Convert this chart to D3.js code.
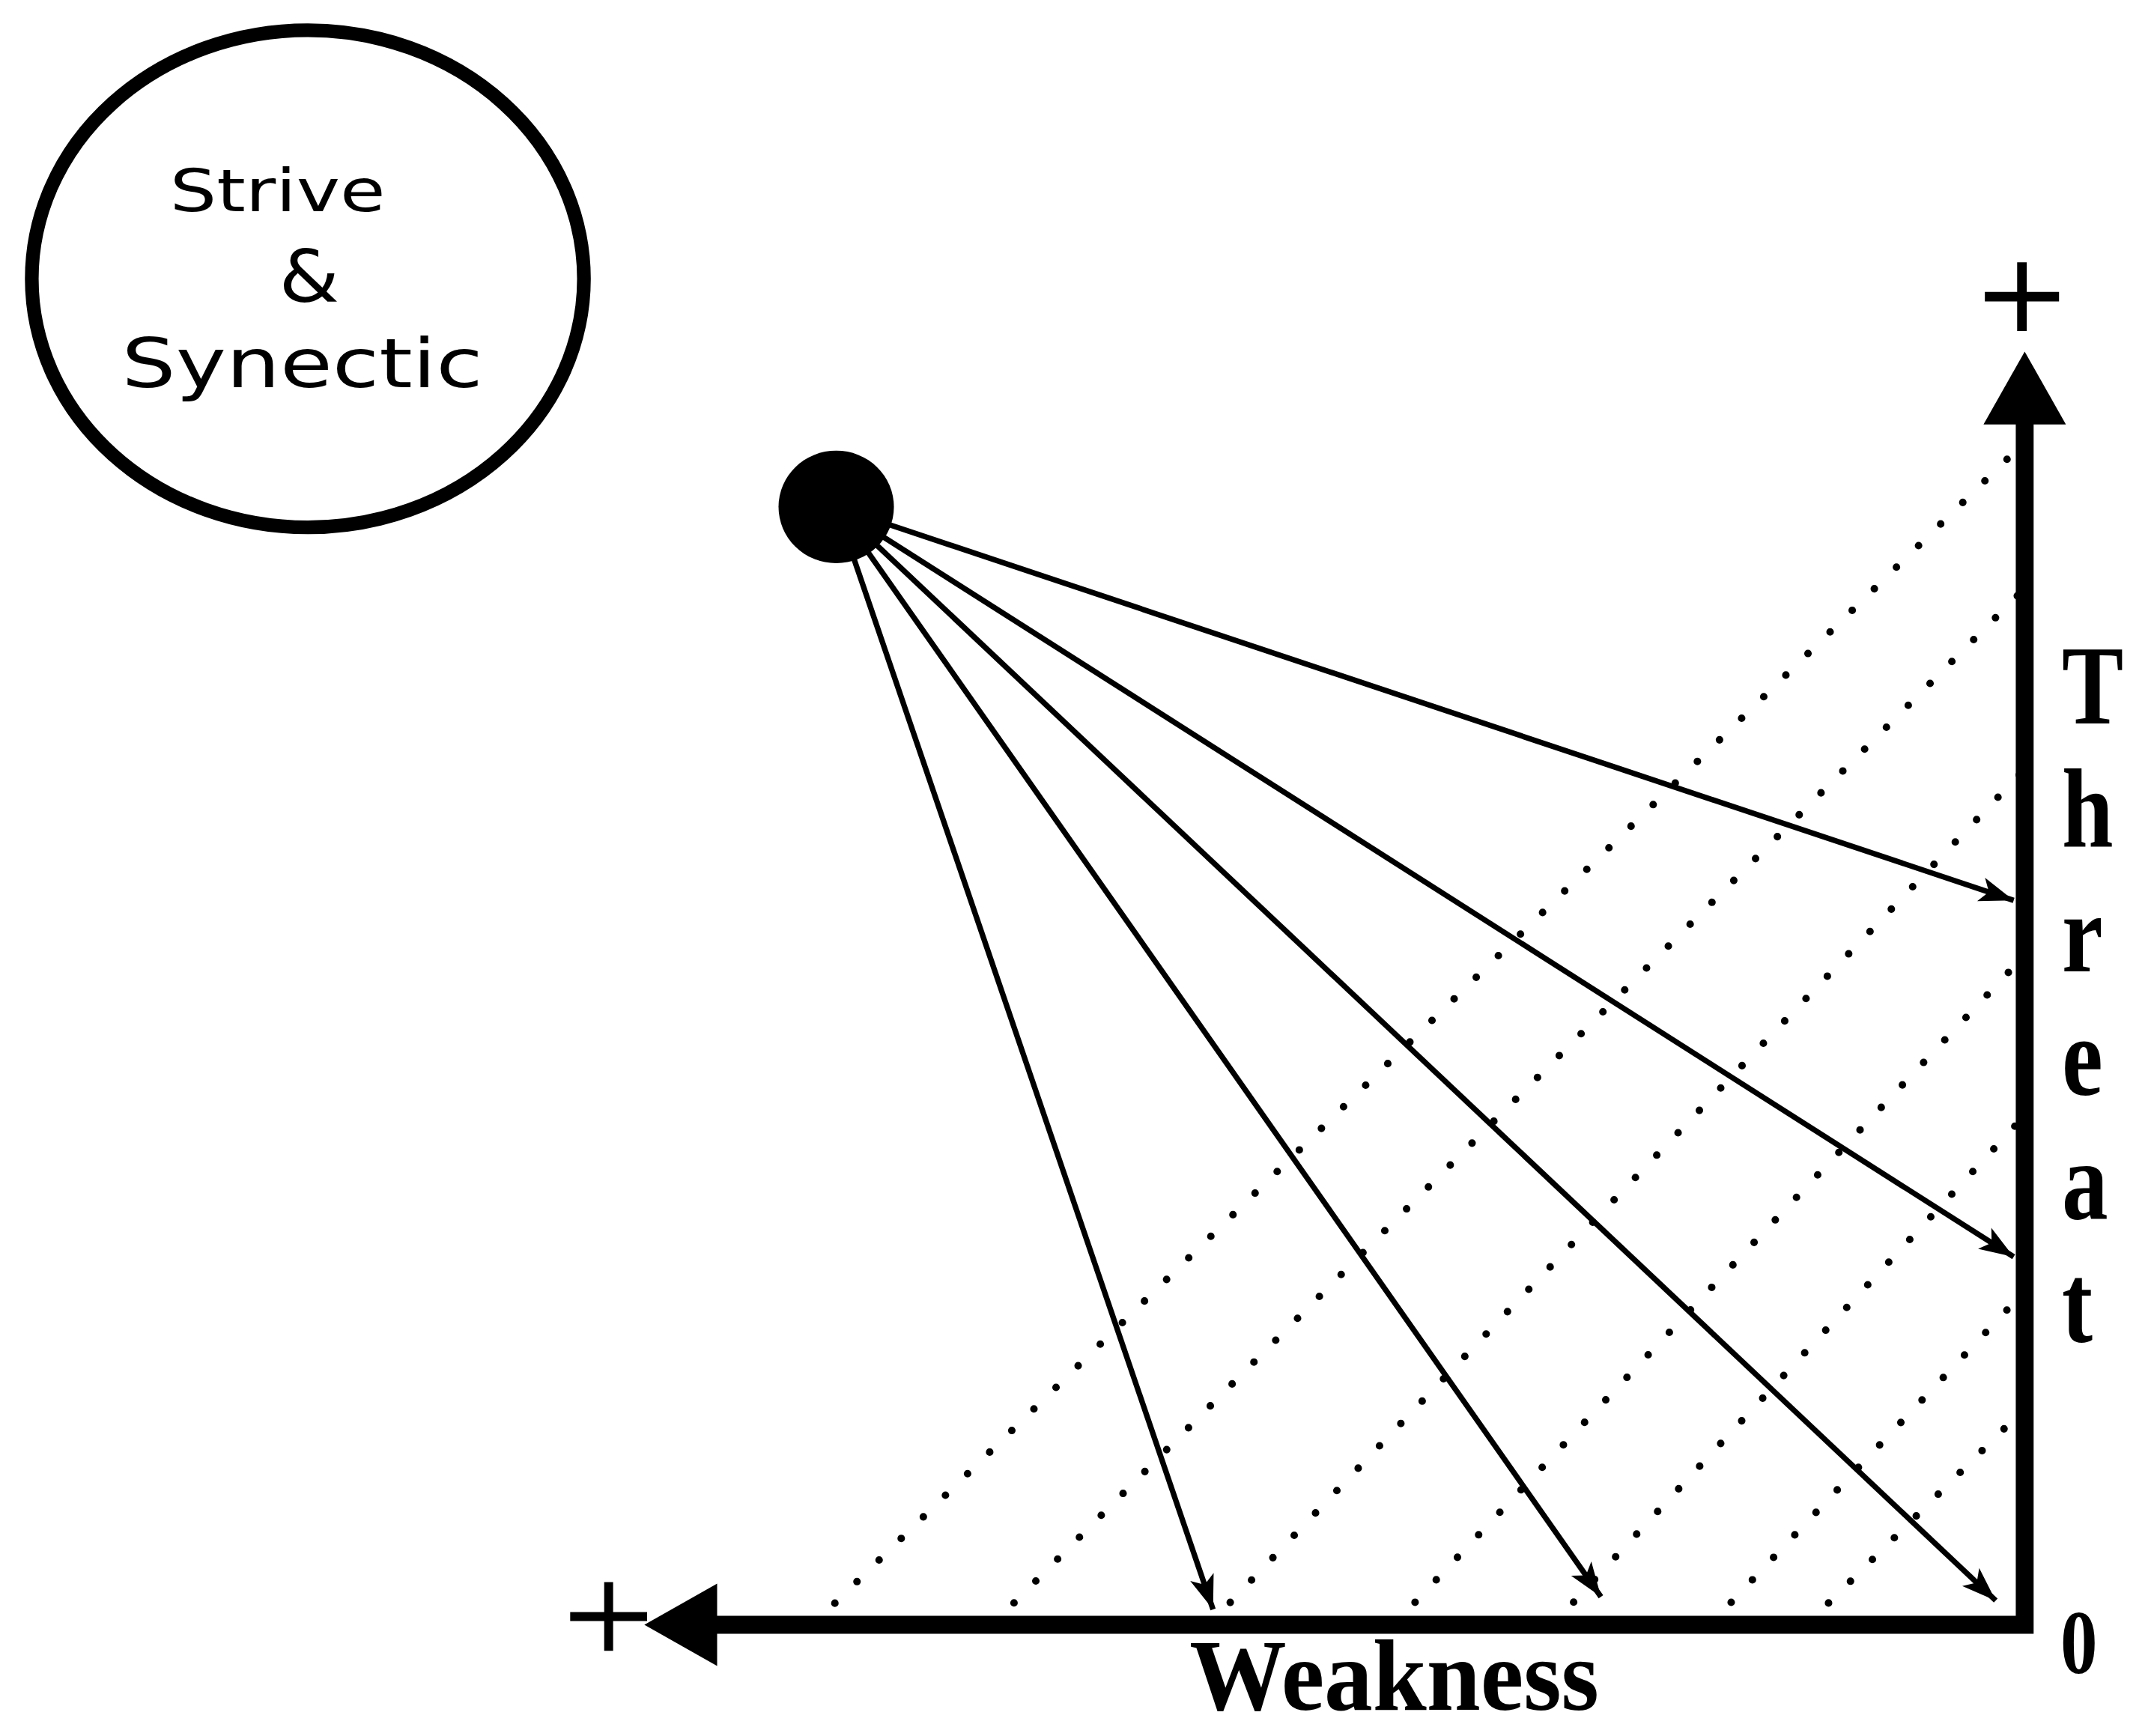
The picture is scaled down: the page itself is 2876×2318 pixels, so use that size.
<!DOCTYPE html>
<html>
<head>
<meta charset="utf-8">
<script src="https://cdn.jsdelivr.net/npm/d3@7"></script>
<style>
    body { margin: 0; background: #fff; }
    svg { display: block; }
</style>
</head>
<body>
<div id="vis-svg"></div>
<script>
// axes run from 0 (the corner) to 10 (the arrow tips)
// weakness grows to the left, threat grows upward
let axis_max = 10;

// the big black dot the arrows come out of
let source_point = {weakness: 8.61, threat: 8.78};

// where each solid arrow lands
let arrow_weakness = [0.08, 0.08, 0.21, 3.07, 5.88];
let arrow_threat = [5.69, 2.89, 0.19, 0.22, 0.12];

// dotted diagonals, from a point on the weakness axis to a point on the threat axis
let dotted_weakness = [8.78, 7.48, 5.91, 4.57, 3.42, 2.28, 1.58];
let dotted_threat = [9.29, 8.14, 6.72, 5.26, 4.00, 2.62, 1.70];

// labels
let bubble_lines = ['Strive', '&', 'Synectic'];
let threat_label = 'Threat';
let weakness_label = 'Weakness';
let origin_label = '0';
let end_label = '+';

window.onload = () => {
    make_graph()
};

function make_graph() {
    // drawn in a 1568 x 1264 box, then stretched to the page
    let W = 1568, H = 1264;

    const svg = d3.select("#vis-svg").append("svg")
        .attr("width", 2876)
        .attr("height", 2318)
        .attr("viewBox", "0 0 " + W + " " + H);

    var x = d3.scaleLinear()
        .domain([0, axis_max])
        .range([1474, 469]);
    var y = d3.scaleLinear()
        .domain([0, axis_max])
        .range([1183, 256]);

    let defs = svg.append("defs");
    defs.append("marker")
        .attr("id", "head")
        .attr("markerUnits", "userSpaceOnUse")
        .attr("viewBox", "-26 -11 28 22")
        .attr("refX", 0)
        .attr("refY", 0)
        .attr("markerWidth", 28)
        .attr("markerHeight", 22)
        .attr("orient", "auto")
        .append("path")
        .attr("d", "M0,0 L-25,-9 L-19,0 L-25,9 Z")
        .attr("fill", "#000");

    // bubble in the top left corner
    let bubble = svg.append("g");
    bubble.append("ellipse")
        .attr("cx", 224)
        .attr("cy", 203)
        .attr("rx", 201)
        .attr("ry", 181)
        .attr("fill", "none")
        .attr("stroke", "#000")
        .attr("stroke-width", 10);

    let bubble_pos = [
        {x: 202, base: 154, size: 43, len: 157},
        {x: 225, base: 220, size: 52, len: 44},
        {x: 220, base: 282, size: 50, len: 263}
    ];
    bubble.selectAll("text")
        .data(bubble_lines)
        .enter()
        .append("text")
        .attr("x", (d, i) => bubble_pos[i].x)
        .attr("y", (d, i) => bubble_pos[i].base)
        .attr("text-anchor", "middle")
        .attr("font-family", "'DejaVu Sans', sans-serif")
        .attr("font-size", (d, i) => bubble_pos[i].size)
        .attr("textLength", (d, i) => bubble_pos[i].len)
        .attr("lengthAdjust", "spacingAndGlyphs")
        .text(d => d);

    // dotted diagonals
    let dotted = dotted_weakness.map((w, i) => [[w, 0], [0, dotted_threat[i]]]);
    let line = d3.line()
        .x(d => x(d[0]))
        .y(d => y(d[1]));

    svg.append("g")
        .selectAll("path")
        .data(dotted)
        .enter()
        .append("path")
        .attr("d", line)
        .attr("fill", "none")
        .attr("stroke", "#000")
        .attr("stroke-width", 5.5)
        .attr("stroke-linecap", "round")
        .attr("stroke-dasharray", "0 22.5");

    // solid arrows from the dot
    let arrows = arrow_weakness.map((w, i) => [[source_point.weakness, source_point.threat], [w, arrow_threat[i]]]);
    svg.append("g")
        .selectAll("path")
        .data(arrows)
        .enter()
        .append("path")
        .attr("d", line)
        .attr("fill", "none")
        .attr("stroke", "#000")
        .attr("stroke-width", 4)
        .attr("marker-end", "url(#head)");

    svg.append("ellipse")
        .attr("cx", x(source_point.weakness))
        .attr("cy", y(source_point.threat))
        .attr("rx", 42)
        .attr("ry", 41)
        .attr("fill", "#000");

    // the two axes, one path with a square corner
    let head_len = 53, head_half = 30;
    svg.append("path")
        .attr("d", "M" + (x(axis_max) + head_len) + "," + y(0)
            + "L" + x(0) + "," + y(0)
            + "L" + x(0) + "," + (y(axis_max) + head_len))
        .attr("fill", "none")
        .attr("stroke", "#000")
        .attr("stroke-width", 13)
        .attr("stroke-linejoin", "miter")
        .attr("stroke-linecap", "square");

    // arrow heads at the end of each axis
    svg.append("path")
        .attr("d", "M" + x(0) + "," + y(axis_max)
            + "L" + (x(0) + head_half) + "," + (y(axis_max) + head_len)
            + "L" + (x(0) - head_half) + "," + (y(axis_max) + head_len) + "Z")
        .attr("fill", "#000");
    svg.append("path")
        .attr("d", "M" + x(axis_max) + "," + y(0)
            + "L" + (x(axis_max) + head_len) + "," + (y(0) - head_half)
            + "L" + (x(axis_max) + head_len) + "," + (y(0) + head_half) + "Z")
        .attr("fill", "#000");

    // plus signs past the arrow tips
    let pluses = [
        {cx: x(0) - 2, cy: y(axis_max) - 40, hw: 27, hh: 25, sw: 7},
        {cx: x(axis_max) - 26, cy: y(0) - 6, hw: 28, hh: 25, sw: 6.5}
    ];
    svg.append("g")
        .selectAll("path")
        .data(pluses)
        .enter()
        .append("path")
        .attr("d", d => "M" + (d.cx - d.hw) + "," + d.cy + "H" + (d.cx + d.hw)
            + "M" + d.cx + "," + (d.cy - d.hh) + "V" + (d.cy + d.hh))
        .attr("stroke", "#000")
        .attr("stroke-width", d => d.sw)
        .attr("fill", "none")
        .append("title").text(end_label);

    // Threat written down the right side, one letter per line
    svg.append("g")
        .selectAll("text")
        .data(threat_label.split(''))
        .enter()
        .append("text")
        .attr("transform", (d, i) => "translate(1501," + (527 + i * 90) + ") scale(0.82,1)")
        .attr("font-family", "'Liberation Serif', 'Times New Roman', serif")
        .attr("font-weight", "bold")
        .attr("font-size", 82)
        .text(d => d);

    // sits right on the bottom edge in the original, pulled up a little so it is not clipped
    svg.append("text")
        .attr("x", 866)
        .attr("y", 1245)
        .attr("font-family", "'Liberation Serif', 'Times New Roman', serif")
        .attr("font-weight", "bold")
        .attr("font-size", 74)
        .attr("textLength", 298)
        .attr("lengthAdjust", "spacingAndGlyphs")
        .text(weakness_label);

    svg.append("text")
        .attr("x", 1500)
        .attr("y", 1218)
        .attr("font-family", "'Liberation Serif', 'Times New Roman', serif")
        .attr("font-weight", "bold")
        .attr("font-size", 66)
        .attr("textLength", 27)
        .attr("lengthAdjust", "spacingAndGlyphs")
        .text(origin_label);
}
</script>
</body>
</html>
